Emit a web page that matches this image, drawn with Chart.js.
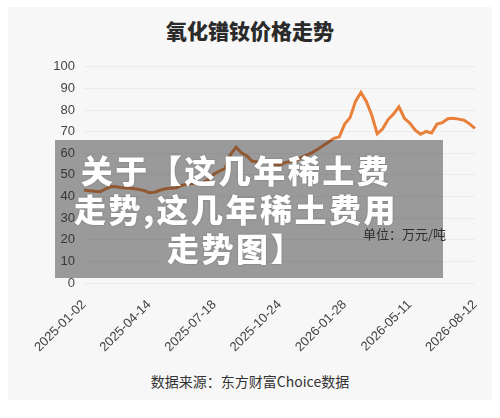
<!DOCTYPE html>
<html lang="zh">
<head>
<meta charset="UTF-8">
<title>氧化镨钕价格走势</title>
<script src="https://cdn.jsdelivr.net/npm/chart.js@4/dist/chart.umd.min.js"></script>
<style>
  html, body { margin: 0; padding: 0; background: #fff; }
  body { width: 500px; height: 418px; position: relative; overflow: hidden; font-family: "Noto Sans CJK SC", "Liberation Sans", sans-serif; }
  .panel { position: absolute; left: 8px; top: 7px; width: 484px; height: 393px; background: #f7f7f7; }
  .title { position: absolute; left: 8px; width: 484px; top: 16px; text-align: center; font-size: 21px; font-weight: 900; color: #2b2b2b; line-height: 28px; }
  .wrap { position: absolute; left: 8px; top: 50px; width: 484px; height: 312px; }
  .unit { position: absolute; left: 363px; top: 225px; font-size: 13px; color: #333; line-height: 18px; }
  .source { position: absolute; left: 8px; width: 484px; top: 371px; text-align: center; font-size: 14px; color: #333; line-height: 20px; }
  .shade { position: absolute; left: 55px; top: 140px; width: 388px; height: 138px; background: rgba(40, 40, 40, 0.45); }
  .headline { position: absolute; left: 57px; width: 358px; top: 150px; text-align: center; color: #fff; font-size: 32px; font-weight: 900; line-height: 39px; letter-spacing: 2.5px; white-space: nowrap; text-shadow: 0 0 2px rgba(0,0,0,.25); }
</style>
</head>
<body>
<div class="panel"></div>
<div class="title">氧化镨钕价格走势</div>
<div class="wrap"><canvas id="chart" width="484" height="312"></canvas></div>
<div class="unit">单位：万元/吨</div>
<div class="source">数据来源：东方财富Choice数据</div>
<div class="shade"></div>
<div class="headline">关于【这几年稀土费<br>走势,这几年稀土费用<br>走势图】</div>
<script>
// tick labels shown on the x axis, one every 12 points
const tickLabels = ['2025-01-02', '2025-04-14', '2025-07-18', '2025-10-24', '2026-01-28', '2026-05-11', '2026-08-12'];
const tickEvery = 12;

// 氧化镨钕 price, 万元/吨
const prices = [
  43, 42.7, 42.4, 42.2, 43.5, 44.6, 44.5, 44, 43.9, 43.7, 43.3, 42.8,
  41.8, 42, 42.9, 43.6, 43.8, 44, 45.1, 45.8, 46, 46, 46.6, 48,
  50.5, 51.8, 53, 59.5, 62.8, 60.2, 58.8, 56.3, 56, 56.3, 55.7, 54.8,
  54.5, 55.7, 56.2, 56.6, 58, 59.1, 60.3, 61.8, 63.5, 65.1, 66.9, 67.5,
  73.5, 76.5, 84, 88.2, 84, 77.6, 69, 71.3, 75.6, 78.2, 81.5, 76.2,
  74, 70.7, 68.8, 70.1, 69.4, 73.5, 74.2, 76, 76.2, 75.8, 75.3, 73.6,
  71.5
];

const categories = prices.map((_, i) => (i % tickEvery === 0 ? tickLabels[i / tickEvery] : ''));

new Chart(document.getElementById('chart'), {
  type: 'line',
  data: {
    labels: categories,
    datasets: [{
      data: prices,
      borderColor: '#e8803a',
      borderWidth: 3,
      pointRadius: 0,
      tension: 0,
      fill: false
    }]
  },
  options: {
    responsive: false,
    animation: false,
    layout: { padding: { left: 0, top: 9, right: 14, bottom: 0 } },
    plugins: { legend: { display: false }, tooltip: { enabled: false } },
    scales: {
      x: {
        grid: { display: false },
        border: { display: false },
        ticks: {
          autoSkip: false,
          maxRotation: 45,
          minRotation: 45,
          padding: 6,
          color: '#444',
          font: { family: 'Liberation Sans', size: 13 },
          callback: (v, i) => categories[i]
        },
        afterFit: (s) => { s.height = 79; }
      },
      y: {
        min: 0,
        max: 100,
        grid: { color: '#ebebeb', drawTicks: false },
        border: { display: false },
        ticks: {
          stepSize: 10,
          padding: 9,
          color: '#444',
          font: { family: 'Liberation Sans', size: 13 }
        },
        afterFit: (s) => { s.width = 76; }
      }
    }
  }
});
</script>
</body>
</html>
